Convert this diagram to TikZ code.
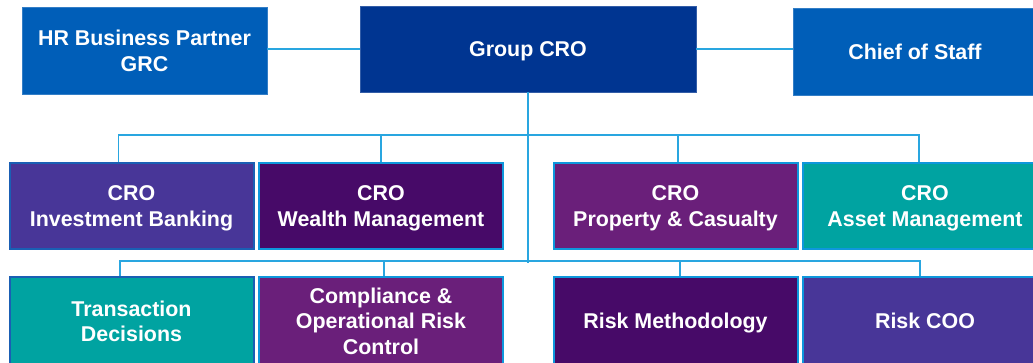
\documentclass[tikz,border=0pt]{standalone}
\usepackage{fontspec}
\setmainfont{Liberation Sans}
\definecolor{hrblue}{HTML}{005EB8}
\definecolor{navy}{HTML}{003591}
\definecolor{indigo}{HTML}{483698}
\definecolor{plum}{HTML}{470A68}
\definecolor{violet}{HTML}{6A1F7A}
\definecolor{teal}{HTML}{00A3A1}
\definecolor{linkblue}{HTML}{29A6E0}
\definecolor{edgelight}{HTML}{0E97DC}
\definecolor{edgedark}{HTML}{1A5FB4}
\tikzset{
    unit/.style={inner sep=0pt, align=center, text=white, text depth=0pt, font=\fontsize{21.4}{25.5}\selectfont\bfseries, minimum height=86pt},
    topunit/.style={unit, draw=#1!80!white, line width=0.8pt, fill=#1},
    subunit/.style={unit, draw=edgelight, line width=2pt, fill=#1, minimum width=244pt},
    link/.style={draw=linkblue, line width=1.4pt}
}

\begin{document}
\begin{tikzpicture}[x=1pt,y=-1pt]
    \useasboundingbox (0,0) rectangle (1033,362);
    \clip (0,0) rectangle (1033,362);
    \node[topunit=hrblue, minimum width=245pt, minimum height=87pt] (hr) at (144.5,50.5) {HR Business Partner\\GRC};
    \node[topunit=navy, minimum width=336pt] (gcro) at (528,49) {Group CRO};
    \node[topunit=hrblue, minimum width=244pt, minimum height=87pt] (cos) at (915,51.5) {Chief of Staff};
    \node[subunit=indigo, draw=edgedark] (ib) at (131.5,206) {CRO\\Investment Banking};
    \node[subunit=plum] (wm) at (381,206) {CRO\\Wealth Management};
    \node[subunit=violet] (pc) at (675.5,206) {CRO\\Property \& Casualty};
    \node[subunit=teal] (am) at (925,206) {CRO\\Asset Management};
    \node[subunit=teal, draw=edgedark, minimum height=88pt] (td) at (131.5,321) {Transaction\\Decisions};
    \node[subunit=violet, minimum height=88pt] (cor) at (381,321) {Compliance \&\\Operational Risk\\Control};
    \node[subunit=plum, minimum height=88pt] (rm) at (675.5,321) {Risk Methodology};
    \node[subunit=indigo, minimum height=88pt] (coo) at (925,321) {Risk COO};
    \draw[link] (gcro.west) -- (gcro.west -| hr.east);
    \draw[link] (gcro.east) -- (gcro.east -| cos.west);
    \draw[link] (gcro.south) -- ++(0,171);
    \draw[link] ([xshift=-13pt]ib.north) -- ++(0,-27) -| ([xshift=-6pt]am.north);
    \draw[link] (wm.north) -- ++(0,-27);
    \draw[link] ([xshift=2.5pt]pc.north) -- ++(0,-27);
    \draw[link] ([xshift=-11.5pt]td.north) -- ++(0,-15) -| ([xshift=-5pt]coo.north);
    \draw[link] ([xshift=3pt]cor.north) -- ++(0,-15);
    \draw[link] ([xshift=4.5pt]rm.north) -- ++(0,-15);
\end{tikzpicture}
\end{document}
